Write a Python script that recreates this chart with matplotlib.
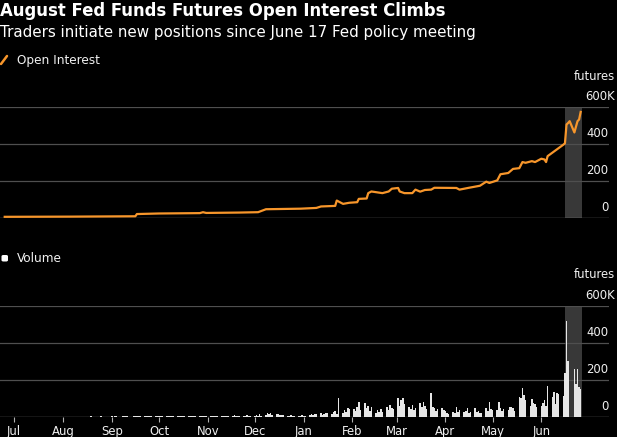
import pandas as pd
import matplotlib
matplotlib.use('Agg')
import matplotlib.pyplot as plt
import matplotlib.dates as mdates
from matplotlib.lines import Line2D
from matplotlib.patches import FancyBboxPatch

W, H = 617, 437
ORANGE = '#f7962b'
BAR = '#e6e6e6'
GRID = '#4f4f4f'
BASE = '#a8a8a8'
SHADE = '#383838'
TXT = '#f0f0f0'

# open interest, thousands of futures (breakpoints of the line)
oi_dates = ['2014-06-25', '2014-08-05', '2014-09-16', '2014-09-17', '2014-10-01',
            '2014-10-27', '2014-10-29', '2014-10-31', '2014-11-21', '2014-12-03',
            '2014-12-08', '2014-12-30', '2015-01-09', '2015-01-12', '2015-01-21',
            '2015-01-22', '2015-01-26', '2015-01-30', '2015-02-04', '2015-02-05',
            '2015-02-10', '2015-02-11', '2015-02-13', '2015-02-20', '2015-02-24',
            '2015-02-26', '2015-03-02', '2015-03-03', '2015-03-06', '2015-03-11',
            '2015-03-13', '2015-03-16', '2015-03-19', '2015-03-23', '2015-03-25',
            '2015-04-08', '2015-04-10', '2015-04-16', '2015-04-23', '2015-04-27',
            '2015-04-29', '2015-05-04', '2015-05-06', '2015-05-11', '2015-05-14',
            '2015-05-18', '2015-05-20', '2015-05-22', '2015-05-26', '2015-05-28',
            '2015-06-01', '2015-06-03', '2015-06-04', '2015-06-05', '2015-06-15',
            '2015-06-16', '2015-06-17', '2015-06-18', '2015-06-19', '2015-06-22',
            '2015-06-23', '2015-06-24', '2015-06-25', '2015-06-26']
oi_values = [8, 9, 11, 23, 26,
             28, 33, 29, 31, 33,
             49, 52, 56, 64, 67,
             96, 78, 84, 87, 105,
             107, 136, 145, 136, 145,
             160, 164, 145, 136, 136,
             155, 144, 153, 155, 165,
             164, 155, 165, 176, 198,
             191, 205, 238, 245, 267,
             271, 304, 300, 309, 304,
             322, 318, 304, 336, 398,
             405, 507, 515, 525, 464,
             495, 525, 534, 575]

# daily volume, thousands of futures (business days up to 2015-06-26)
volume = [
    0.3, 0.4, 0.3, 0.5,  # late Jun
    0.4, 0.3, 0.5, 0.4, 0.6, 0.3, 0.5, 0.4, 0.7, 0.5, 0.4, 0.6, 0.5, 0.3, 0.8, 0.5,
    0.4, 0.6, 0.5, 0.7, 0.4, 0.6, 0.5,  # Jul
    0.6, 0.5, 0.8, 0.4, 0.7, 0.9, 0.5, 0.6, 1.0, 0.7, 0.5, 0.8, 1.2, 0.6, 0.9, 0.7,
    1.1, 0.8, 0.6, 1.0, 0.9,  # Aug
    1.2, 0.8, 1.5, 2.5, 1.0, 1.8, 1.3, 2.2, 1.6, 1.0, 2.8, 1.5, 3.5, 1.2, 2.0, 1.7,
    4.5, 1.5, 2.3, 1.8, 2.6, 1.4,  # Sep
    2.0, 3.0, 1.5, 2.5, 3.5, 2.0, 4.0, 2.5, 1.8, 3.0, 2.2, 4.5, 2.8, 1.6, 3.2, 2.5,
    3.8, 2.0, 5.0, 2.6, 3.0, 2.2, 3.5,  # Oct
    3.0, 4.5, 2.5, 3.8, 6.0, 3.2, 4.0, 2.8, 5.5, 3.5, 4.2, 7.0, 3.0, 4.8, 3.6, 5.2,
    4.0, 6.5, 3.4, 4.5,  # Nov
    5.0, 8.0, 4.0, 12.0, 6.0, 10.0, 18.0, 14.0, 20.0, 9.0, 12.0, 16.0, 8.0, 10.0,
    7.0, 6.0, 4.0, 9.0, 5.0, 3.0, 6.0, 4.0, 7.0,  # Dec
    4, 6, 10, 14, 8, 12, 16, 20, 10, 14, 22, 18, 12, 26, 30, 16, 99, 20, 36, 28,
    45, 40,  # Jan
    40, 30, 55, 81, 35, 76, 45, 60, 30, 50, 20, 36, 28, 40, 25, 54, 35, 63, 45, 40,  # Feb
    99, 60, 90, 103, 70, 54, 40, 63, 35, 45, 72, 50, 81, 60, 40, 126, 50, 45, 30, 40,
    45, 36,  # Mar
    30, 20, 15, 27, 18, 50, 25, 35, 23, 30, 45, 20, 28, 45, 25, 30, 18, 22, 45, 30,
    77, 40,  # Apr
    35, 36, 77, 45, 30, 40, 36, 50, 54, 45, 30, 108, 99, 153, 117, 90, 60, 95, 72,
    68, 50,  # May
    58, 72, 90, 60, 166, 108, 135, 70, 130, 125, 112, 234, 519, 300, 0, 258, 175,
    258, 160, 150,  # Jun
]

month_ticks = ['2014-07-01', '2014-08-01', '2014-09-01', '2014-10-01', '2014-11-01',
               '2014-12-01', '2015-01-01', '2015-02-01', '2015-03-01', '2015-04-01',
               '2015-05-01', '2015-06-01']
month_labels = ['Jul', 'Aug', 'Sep', 'Oct', 'Nov', 'Dec', 'Jan', 'Feb', 'Mar', 'Apr',
                'May', 'Jun']
y_ticks = [0, 200, 400, 600]

title = 'August Fed Funds Futures Open Interest Climbs'
subtitle = 'Traders initiate new positions since June 17 Fed policy meeting'

vol_dates = pd.bdate_range(end='2015-06-26', periods=len(volume))
oi_dates = pd.to_datetime(oi_dates)

plt.rcParams['font.family'] = ['DejaVu Sans']
fig = plt.figure(figsize=(W / 100, H / 100), dpi=100, facecolor='black')


def fx(x):
    return x / W


def fy(y):
    return 1 - y / H


def setup(ax):
    ax.set_facecolor('black')
    ax.set_xlim(mdates.date2num(pd.Timestamp('2014-06-22')),
                mdates.date2num(pd.Timestamp('2015-07-14')))
    ax.set_ylim(0, 600)
    for s in ax.spines.values():
        s.set_visible(False)
    ax.set_yticks([])
    for v in y_ticks:
        ax.axhline(v, color=BASE if v == 0 else GRID, lw=0.9, zorder=1)
    ax.axvspan(pd.Timestamp('2015-06-16'), pd.Timestamp('2015-06-27'),
               color=SHADE, lw=0, zorder=0)
    for v in y_ticks[:-1]:
        ax.annotate(str(v), xy=(1, v), xycoords=('axes fraction', 'data'),
                    xytext=(-0.5, 5), textcoords='offset points',
                    ha='right', va='baseline', color=TXT, fontsize=8.4)
    ax.annotate('600K', xy=(1, 600), xycoords=('axes fraction', 'data'),
                xytext=(4.5, 5), textcoords='offset points',
                ha='right', va='baseline', color=TXT, fontsize=8.4)
    ax.annotate('futures', xy=(1, 600), xycoords=('axes fraction', 'data'),
                xytext=(4.5, 20), textcoords='offset points',
                ha='right', va='baseline', color=TXT, fontsize=8.4)


ax1 = fig.add_axes([0, fy(218.3), fx(609), 111 / H])
setup(ax1)
ax1.set_xticks([])
ax1.plot(oi_dates, oi_values, color=ORANGE, lw=1.6, zorder=3,
         solid_joinstyle='round')

ax2 = fig.add_axes([0, fy(416.7), fx(609), 111 / H])
setup(ax2)
ax2.bar(vol_dates, volume, width=1.0, color=BAR, lw=0, zorder=3)
ax2.set_xticks(pd.to_datetime(month_ticks))
ax2.set_xticklabels(month_labels)
ax2.tick_params(axis='x', direction='out', length=3.8, width=0.8, color='#b0b0b0',
                labelcolor=TXT, labelsize=8.4, pad=2.5)

# titles
fig.text(fx(0.5), fy(16.5), title, color='white', fontsize=11.9, fontweight='bold',
         va='baseline', ha='left')
fig.text(fx(0), fy(36.5), subtitle, color='white', fontsize=10.9,
         va='baseline', ha='left')

# legends
fig.add_artist(Line2D([fx(1), fx(7)], [fy(64), fy(56)], color=ORANGE, lw=1.8,
                      solid_capstyle='round'))
fig.text(fx(17), fy(64), 'Open Interest', color=TXT, fontsize=8.7, va='baseline')
fig.add_artist(FancyBboxPatch((fx(1.5), fy(261.5)), fx(6.5), 6.5 / H,
                              boxstyle='round,pad=0,rounding_size=0.003',
                              transform=fig.transFigure, color='white', lw=0))
fig.text(fx(17), fy(262), 'Volume', color=TXT, fontsize=8.7, va='baseline')

fig.savefig('out.png', dpi=100, facecolor='black')
